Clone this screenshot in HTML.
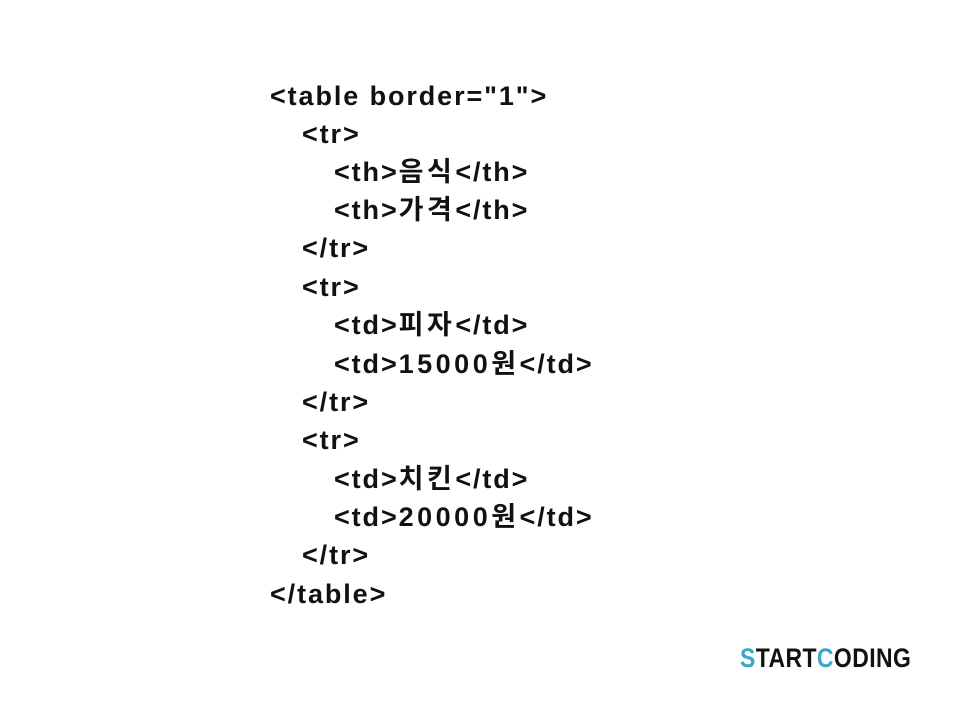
<!DOCTYPE html>
<html><head><meta charset="utf-8"><style>
body{margin:0;width:960px;height:720px;background:#fff;position:relative;overflow:hidden}
.l{position:absolute;font-family:"Liberation Sans","Noto Sans CJK KR",sans-serif;font-weight:bold;font-size:27px;line-height:30px;color:#111;white-space:pre;letter-spacing:1.9px}
.k{letter-spacing:3.5px}
.n{letter-spacing:3.5px}
.logo{position:absolute;left:740px;top:641px;font-family:"Liberation Sans",sans-serif;font-weight:bold;font-size:27px;line-height:34px;color:#111;transform:scaleX(0.85);transform-origin:left top;letter-spacing:0.5px}
.b{color:#3aa6c8}
</style></head><body>
<div class="l" style="left:270px;top:81px">&lt;table border="1"&gt;</div>
<div class="l" style="left:302px;top:119px">&lt;tr&gt;</div>
<div class="l" style="left:334px;top:157px">&lt;th&gt;<span class="k">음식</span>&lt;/th&gt;</div>
<div class="l" style="left:334px;top:195px">&lt;th&gt;<span class="k">가격</span>&lt;/th&gt;</div>
<div class="l" style="left:302px;top:233px">&lt;/tr&gt;</div>
<div class="l" style="left:302px;top:272px">&lt;tr&gt;</div>
<div class="l" style="left:334px;top:310px">&lt;td&gt;<span class="k">피자</span>&lt;/td&gt;</div>
<div class="l" style="left:334px;top:349px">&lt;td&gt;<span class="n">15000원</span>&lt;/td&gt;</div>
<div class="l" style="left:302px;top:387px">&lt;/tr&gt;</div>
<div class="l" style="left:302px;top:425px">&lt;tr&gt;</div>
<div class="l" style="left:334px;top:464px">&lt;td&gt;<span class="k">치킨</span>&lt;/td&gt;</div>
<div class="l" style="left:334px;top:502px">&lt;td&gt;<span class="n">20000원</span>&lt;/td&gt;</div>
<div class="l" style="left:302px;top:540px">&lt;/tr&gt;</div>
<div class="l" style="left:270px;top:579px">&lt;/table&gt;</div>
<div class="logo"><span class="b">S</span>TART<span class="b">C</span>ODING</div>
</body></html>
